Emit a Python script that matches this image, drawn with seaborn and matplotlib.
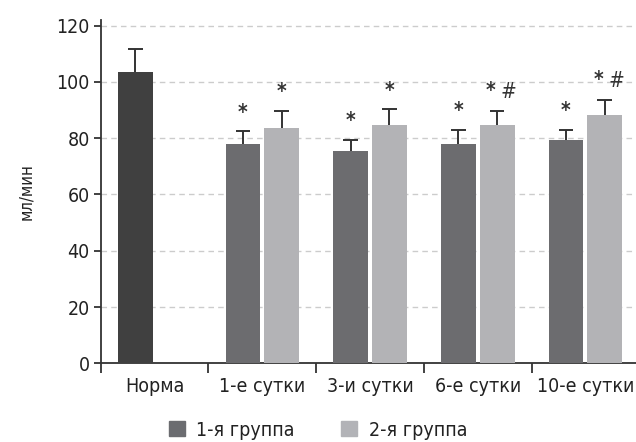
import matplotlib
matplotlib.use("Agg")
import matplotlib.pyplot as plt
from matplotlib import font_manager as fm
import seaborn as sns
import numpy as np
import pandas as pd

# Data
categories = ["Норма", "1-е сутки", "3-и сутки", "6-е сутки", "10-е сутки"]
groups = ["1-я группа", "2-я группа"]
group1_mean = [103.4, 77.9, 75.4, 77.9, 79.3]
group1_err = [8.2, 4.6, 4.1, 5.0, 3.6]
group2_mean = [np.nan, 83.5, 84.6, 84.6, 88.2]
group2_err = [np.nan, 6.2, 5.6, 5.1, 5.5]
group1_marks = ["", "*", "*", "*", "*"]
group2_marks = ["", "*", "*", "* #", "* #"]

colors = {"1-я группа": "#6b6c70", "2-я группа": "#b2b3b7"}
norm_color = "#404040"

df = pd.DataFrame({
    "cat": categories * 2,
    "group": [groups[0]] * 5 + [groups[1]] * 5,
    "value": group1_mean + group2_mean,
})

sns.set_style("white")

# try to find a narrow font, the original uses a condensed typeface
files = [f.fname for f in fm.fontManager.ttflist]
stretch = "normal"
if any("LiberationSansNarrow-Regular" in f for f in files):
    family = "Liberation Sans Narrow"
elif any("DejaVuSansCondensed.ttf" in f for f in files):
    family = "DejaVu Sans"
    stretch = "condensed"
else:
    family = "DejaVu Sans"
plt.rcParams["font.family"] = [family, "DejaVu Sans"]
plt.rcParams["font.stretch"] = stretch

fig = plt.figure(figsize=(6.36, 4.42), dpi=100)
ax = fig.add_axes([0.1585, 0.178, 0.8415, 0.777])

sns.barplot(data=df, x="cat", y="value", hue="group", order=categories,
            hue_order=groups, palette=colors, width=0.72, gap=0.1,
            errorbar=None, ax=ax, legend=False, zorder=3, linewidth=0)

# one container per hue level; NaN bars may be dropped
def bar_centers(container, means):
    xs = {}
    bars = list(container)
    valid = [i for i, m in enumerate(means) if not np.isnan(m)]
    if len(bars) == len(means):
        idx = list(range(len(means)))
    else:
        idx = valid
    for i, b in zip(idx, bars):
        xs[i] = (b, b.get_x() + b.get_width() / 2)
    return xs

g1 = bar_centers(ax.containers[0], group1_mean)
g2 = bar_centers(ax.containers[1], group2_mean)
g1[0][0].set_facecolor(norm_color)

cap = 0.068
ink = "#333333"

def draw_err(pos, means, errs, marks):
    for i, (b, xc) in pos.items():
        m, e, mk = means[i], errs[i], marks[i]
        if np.isnan(m):
            continue
        top = m + e
        ax.vlines(xc, m, top, color=ink, linewidth=1.4, zorder=4)
        ax.hlines(top, xc - cap, xc + cap, color=ink, linewidth=1.4, zorder=4)
        if mk == "*":
            ax.text(xc, top + 6.6, "*", ha="center", va="center",
                    fontsize=15, fontweight="bold", color=ink, family="DejaVu Sans")
        elif mk == "* #":
            ax.text(xc - 0.06, top + 7.0, "*", ha="center", va="center",
                    fontsize=15, fontweight="bold", color=ink, family="DejaVu Sans")
            ax.text(xc + 0.105, top + 6.7, "#", ha="center", va="center",
                    fontsize=15, color=ink, family="DejaVu Sans")

draw_err(g1, group1_mean, group1_err, group1_marks)
draw_err(g2, group2_mean, group2_err, group2_marks)

ax.set_xlim(-0.5, 4.47)
ax.set_ylim(0, 122)
ax.set_yticks([0, 20, 40, 60, 80, 100, 120])
ax.yaxis.grid(True, linestyle=(0, (4, 3)), color="#cccccc", linewidth=1, zorder=0)
ax.set_axisbelow(True)

for s in ["top", "right"]:
    ax.spines[s].set_visible(False)
for s in ["left", "bottom"]:
    ax.spines[s].set_color(ink)
    ax.spines[s].set_linewidth(1.3)

ax.set_xticks(np.arange(-0.5, 4.0, 1.0), minor=True)
ax.tick_params(axis="x", which="major", length=0, labelsize=14, pad=10, colors="#222222")
ax.tick_params(axis="x", which="minor", length=7, width=1.3, color=ink, direction="out", bottom=True)
ax.tick_params(axis="y", which="major", length=5, width=1.3, color=ink,
               labelsize=14, pad=3, labelcolor="#222222", direction="out", left=True)

ax.set_xlabel("")
ax.set_ylabel("мл/мин", fontsize=12, color="#222222")
ax.yaxis.set_label_coords(-0.122, 0.5)

# legend below
handles = [plt.Rectangle((0, 0), 1, 1, color=colors[g]) for g in groups]
fig.legend(handles, groups, loc="center", bbox_to_anchor=(0.5, 0.027), ncol=2,
           frameon=False, fontsize=14, handlelength=0.8, handleheight=0.8,
           columnspacing=2.4, handletextpad=0.6, labelcolor="#222222")

fig.savefig("out.png", dpi=100)
